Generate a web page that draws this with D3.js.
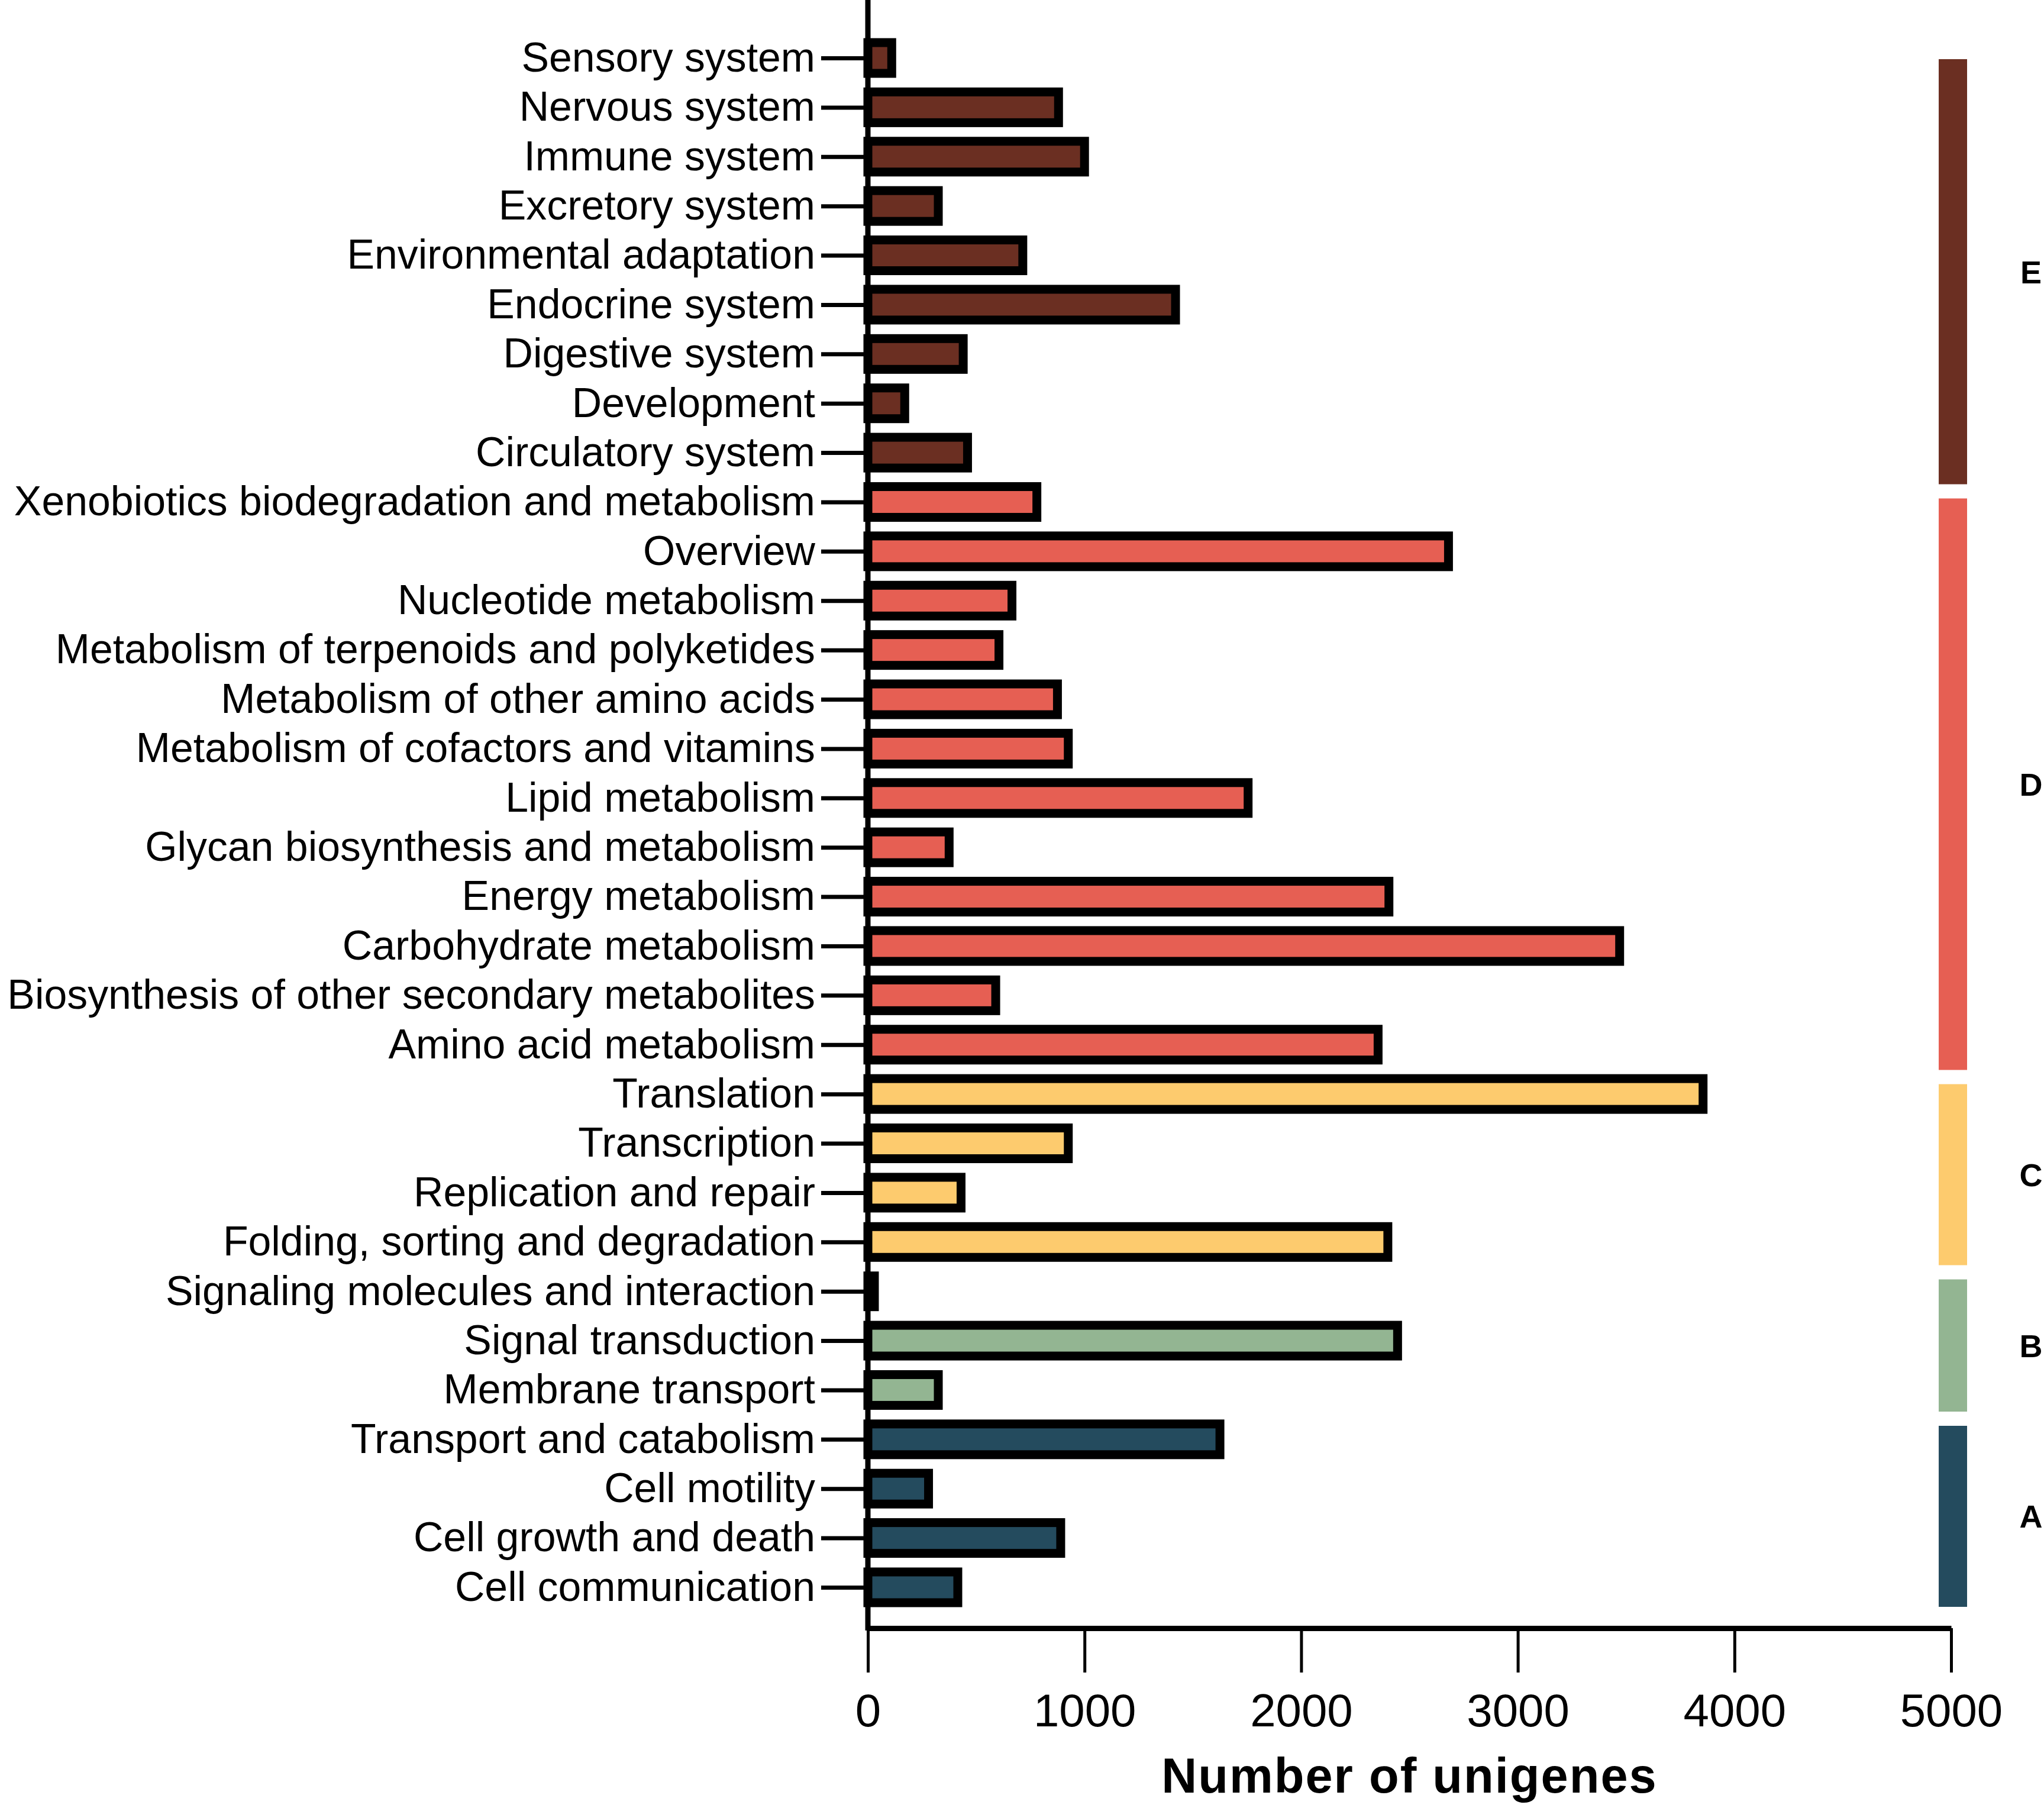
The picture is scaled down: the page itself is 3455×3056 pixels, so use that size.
<!DOCTYPE html>
<html>
<head>
<meta charset="utf-8">
<script src="https://cdn.jsdelivr.net/npm/d3@7"></script>
<style>
  body { margin: 0; background: #fff; }
  svg { display: block; font-family: "Liberation Sans", Arial, sans-serif; }
</style>
</head>
<body>
<div id="chart"></div>
<script>
// KEGG categories, top to bottom as drawn
var categories = [
  "Sensory system", "Nervous system", "Immune system", "Excretory system",
  "Environmental adaptation", "Endocrine system", "Digestive system", "Development",
  "Circulatory system", "Xenobiotics biodegradation and metabolism", "Overview",
  "Nucleotide metabolism", "Metabolism of terpenoids and polyketides",
  "Metabolism of other amino acids", "Metabolism of cofactors and vitamins",
  "Lipid metabolism", "Glycan biosynthesis and metabolism", "Energy metabolism",
  "Carbohydrate metabolism", "Biosynthesis of other secondary metabolites",
  "Amino acid metabolism", "Translation", "Transcription", "Replication and repair",
  "Folding, sorting and degradation", "Signaling molecules and interaction",
  "Signal transduction", "Membrane transport", "Transport and catabolism",
  "Cell motility", "Cell growth and death", "Cell communication"
];
var values = [
  110, 880, 1000, 325, 715, 1420, 440, 170, 460,
  780, 2680, 665, 605, 875, 925, 1755, 375, 2405, 3470, 590, 2355,
  3855, 925, 430, 2400,
  30, 2445, 325,
  1625, 280, 890, 415
];
// group letter of each category
var groupOf = [
  "E","E","E","E","E","E","E","E","E",
  "D","D","D","D","D","D","D","D","D","D","D","D",
  "C","C","C","C",
  "B","B","B",
  "A","A","A","A"
];
var groups = ["E", "D", "C", "B", "A"];
var groupColors = { A: "#244b5e", B: "#93b592", C: "#fdcb6e", D: "#e65f53", E: "#6b2f22" };
var xTicks = [0, 1000, 2000, 3000, 4000, 5000];

var W = 3455, H = 3056;
var x0 = 1467, x1 = 3298, axisY = 2752;

var svg = d3.select("#chart").append("svg")
  .attr("width", W)
  .attr("height", H);

var x = d3.scaleLinear().domain([0, 5000]).range([x0, x1]);
var y = d3.scalePoint().domain(categories).range([98, 2683]);

var rows = categories.map(function(c, i) {
  return { name: c, value: values[i], group: groupOf[i] };
});

// bars
var barH = 52;
svg.append("g").selectAll("rect")
  .data(rows)
  .join("rect")
  .attr("x", x(0))
  .attr("y", function(d) { return y(d.name) - barH / 2; })
  .attr("width", function(d) { return x(d.value) - x(0); })
  .attr("height", barH)
  .attr("fill", function(d) { return groupColors[d.group]; })
  .attr("stroke", "#000")
  .attr("stroke-width", 15);

// y axis (ticks + labels)
var yAxis = svg.append("g")
  .attr("transform", "translate(" + x0 + ",0)")
  .call(d3.axisLeft(y).tickSize(79).tickPadding(10));
yAxis.select(".domain").remove();
yAxis.selectAll(".tick line").attr("stroke", "#000").attr("stroke-width", 7);
yAxis.selectAll(".tick text")
  .attr("fill", "#000")
  .attr("font-size", 69.8)
  .attr("font-family", "Liberation Sans, Arial, sans-serif");

// y axis line, runs to the top edge
svg.append("line")
  .attr("x1", x0).attr("x2", x0)
  .attr("y1", 0).attr("y2", axisY + 4)
  .attr("stroke", "#000")
  .attr("stroke-width", 9);

// x axis
var xAxis = svg.append("g")
  .attr("transform", "translate(0," + axisY + ")")
  .call(d3.axisBottom(x).tickValues(xTicks).tickFormat(d3.format("d"))
    .tickSize(75).tickSizeOuter(0).tickPadding(36));
xAxis.select(".domain").attr("stroke", "#000").attr("stroke-width", 9);
xAxis.selectAll(".tick line").attr("stroke", "#000").attr("stroke-width", 5);
xAxis.selectAll(".tick text")
  .attr("fill", "#000")
  .attr("font-size", 78)
  .attr("font-family", "Liberation Sans, Arial, sans-serif");

svg.append("text")
  .attr("x", (x0 + x1) / 2)
  .attr("y", 3030)
  .attr("text-anchor", "middle")
  .attr("font-size", 83)
  .attr("font-weight", "bold")
  .attr("letter-spacing", 2)
  .text("Number of unigenes");

// group strips on the right, stacked by count
var counts = groups.map(function(g) {
  return groupOf.filter(function(k) { return k === g; }).length;
});
var gy = d3.scaleLinear().domain([0, categories.length]).range([100, 2740]);
var gap = 24;
var cum = 0;
var segs = groups.map(function(g, i) {
  var s = { group: g, start: cum, end: cum + counts[i] };
  cum += counts[i];
  return s;
});

svg.append("g").selectAll("rect")
  .data(segs)
  .join("rect")
  .attr("x", 3277)
  .attr("width", 48)
  .attr("y", function(d) { return gy(d.start); })
  .attr("height", function(d) { return gy(d.end) - gy(d.start) - gap; })
  .attr("fill", function(d) { return groupColors[d.group]; });

svg.append("g").selectAll("text")
  .data(segs)
  .join("text")
  .attr("x", 3433)
  .attr("y", function(d) { return (gy(d.start) + gy(d.end) - gap) / 2; })
  .attr("dy", "0.36em")
  .attr("text-anchor", "middle")
  .attr("font-size", 54)
  .attr("font-weight", "bold")
  .text(function(d) { return d.group; });
</script>
</body>
</html>
